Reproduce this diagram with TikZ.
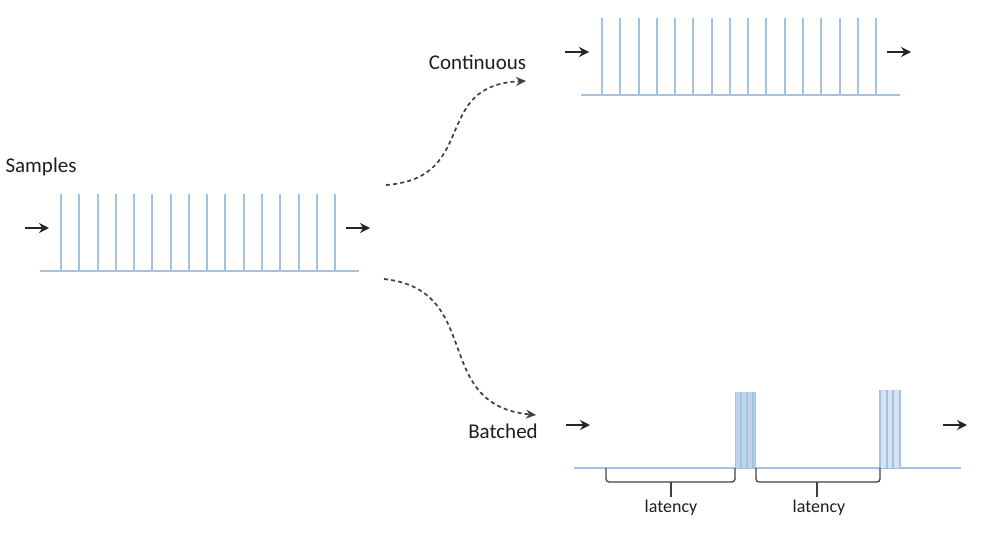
\documentclass[tikz,border=0pt]{standalone}
\usepackage{fontspec}
\setmainfont{Carlito}
\usetikzlibrary{arrows.meta}
\definecolor{spikeblue}{HTML}{A3C2E2}
\definecolor{inkdark}{HTML}{1E1E1E}
\tikzset{
  spike/.style={draw=spikeblue,line width=2pt},
  axisline/.style={draw=spikeblue,line width=2pt},
  flowarrow/.style={draw=black!85,line width=1.6pt,-{Stealth[length=10pt,width=10pt]}},
  branch/.style={draw=inkdark!85,line width=1.7pt,dash pattern=on 4pt off 3.2pt,-{Stealth[length=10pt,width=9pt]}},
  bracket/.style={draw=inkdark!85,line width=1.3pt,rounded corners=3pt},
  stem/.style={draw=inkdark!85,line width=1.3pt},
  biglabel/.style={text=inkdark,font=\fontsize{21}{24}\selectfont,inner sep=0pt},
  smalllabel/.style={text=inkdark,font=\fontsize{18}{20}\selectfont,inner sep=0pt},
}
\begin{document}
\begin{tikzpicture}[x=1pt,y=-1pt]
\useasboundingbox (0,0) rectangle (1000,535);
% labels
\node[biglabel] (samples) at (41,167) {Samples};
\node[biglabel] (continuous) at (477.5,62) {Continuous};
\node[biglabel] (batched) at (503,431) {Batched};
% Samples train
\foreach \i in {0,...,15}{
  \coordinate (sa\i) at ({61+18.27*\i},194);
  \coordinate (sb\i) at ({61+18.27*\i},271);
  \draw[spike] (sa\i) -- (sb\i);
}
\coordinate (sl) at (40,271); \coordinate (sr) at (359,271);
\draw[axisline] (sl) -- (sr);
\coordinate (a1) at (25,228); \coordinate (a2) at (49,228);
\coordinate (a3) at (346,228); \coordinate (a4) at (370,228);
\draw[flowarrow] (a1) -- (a2);
\draw[flowarrow] (a3) -- (a4);
% Continuous train
\foreach \i in {0,...,15}{
  \coordinate (ca\i) at ({602+18.27*\i},18);
  \coordinate (cb\i) at ({602+18.27*\i},95);
  \draw[spike] (ca\i) -- (cb\i);
}
\coordinate (cl) at (581,95); \coordinate (cr) at (900,95);
\draw[axisline] (cl) -- (cr);
\coordinate (a5) at (565,52); \coordinate (a6) at (589,52);
\coordinate (a7) at (887,52); \coordinate (a8) at (911,52);
\draw[flowarrow] (a5) -- (a6);
\draw[flowarrow] (a7) -- (a8);
% Batched train
\coordinate (bl) at (574,468); \coordinate (br) at (961,468);
\draw[axisline] (bl) -- (br);
\fill[spikeblue!70] (735,392) rectangle (755,468);
\foreach \x [count=\n] in {735.5,741,747,753,755.5}{
  \coordinate (ba\n) at (\x,392);
  \coordinate (bb\n) at (\x,468);
  \draw[spike,line width=1.4pt] (ba\n) -- (bb\n);
}
\fill[spikeblue!45] (880,390) rectangle (900,468);
\foreach \x [count=\n] in {880,886.5,893,899.5}{
  \coordinate (da\n) at (\x,390);
  \coordinate (db\n) at (\x,468);
  \draw[spike] (da\n) -- (db\n);
}
\coordinate (a9) at (566,425); \coordinate (a10) at (590,425);
\coordinate (a11) at (943,425); \coordinate (a12) at (967,425);
\draw[flowarrow] (a9) -- (a10);
\draw[flowarrow] (a11) -- (a12);
% dashed branches
\coordinate (t0) at (386,185); \coordinate (t1) at (526,81);
\coordinate (u0) at (384,279); \coordinate (u1) at (536,415);
\draw[branch] (t0) .. controls (480,178) and (430,85) .. (t1);
\draw[branch] (u0) .. controls (485,290) and (430,405) .. (u1);
% braces
\coordinate (k1) at (606,468); \coordinate (k2) at (606,482);
\coordinate (k3) at (735,482); \coordinate (k4) at (735,468);
\coordinate (k5) at (671,482);
\coordinate (k6) at (671,497);
\node[smalllabel] (lat1) at (671,508) {latency};
\draw[bracket] (k1) -- (k2) -- (k3) -- (k4);
\draw[stem] (k5) -- (k6);
\coordinate (m1) at (756,468); \coordinate (m2) at (756,482);
\coordinate (m3) at (880,482); \coordinate (m4) at (880,468);
\coordinate (m5) at (817,482);
\coordinate (m6) at (817,497);
\node[smalllabel] (lat2) at (819,508) {latency};
\draw[bracket] (m1) -- (m2) -- (m3) -- (m4);
\draw[stem] (m5) -- (m6);
\end{tikzpicture}
\end{document}
